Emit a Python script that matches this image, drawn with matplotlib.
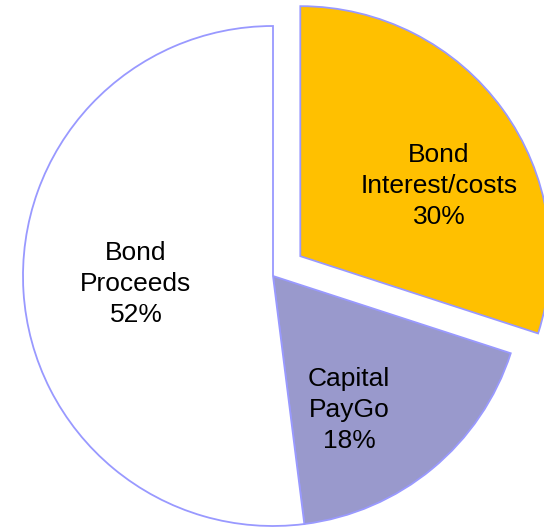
import numpy as np
import matplotlib
matplotlib.use('Agg')
import matplotlib.pyplot as plt

categories = ['Bond\nInterest/costs', 'Capital\nPayGo', 'Bond\nProceeds']
shares = [30, 18, 52]
colors = ['#FFC000', '#9999CC', '#FFFFFF']
explode = [0.135, 0, 0]
# where each label sits, in units of the pie radius
label_pos = [(0.664, 0.36), (0.304, -0.536), (-0.548, -0.032)]

plt.rcParams['font.family'] = ['Liberation Sans', 'DejaVu Sans']

fig = plt.figure(figsize=(5.44, 5.28), dpi=100)
ax = fig.add_axes([0, 0, 1, 1])

wedges, _ = ax.pie(shares, colors=colors, explode=explode, startangle=90,
                   counterclock=False, radius=1,
                   wedgeprops=dict(edgecolor='#9999FF', linewidth=1.3))

for (x, y), name, val in zip(label_pos, categories, shares):
    ax.text(x, y, '%s\n%d%%' % (name, val), ha='center', va='center',
            fontsize=19, color='black', linespacing=1.36)

ax.set_xlim(-273 / 250, 271 / 250)
ax.set_ylim(-252 / 250, 276 / 250)
ax.set_aspect('auto')
ax.axis('off')

fig.savefig('out.png', dpi=100)
